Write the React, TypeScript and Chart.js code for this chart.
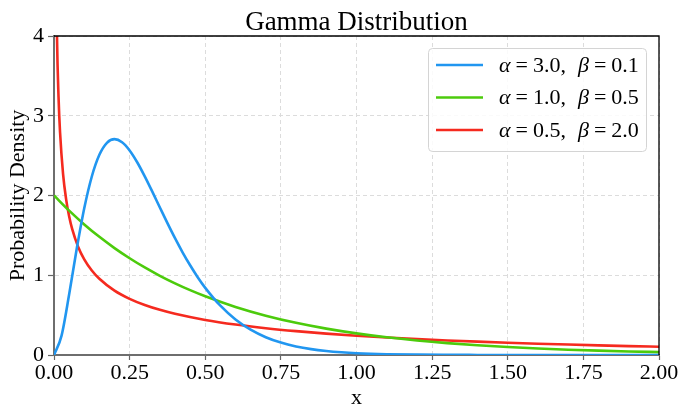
import React, { useEffect, useRef } from 'react';
import { Chart, registerables } from 'chart.js';
Chart.register(...registerables);

const FONT = "'Liberation Serif', 'Times New Roman', serif";
const titleText = 'Gamma Distribution';
const xTitle = 'x';
const yTitle = 'Probability Density';

const xBlue = [0, 0.025, 0.05, 0.075, 0.1, 0.125, 0.15, 0.175, 0.2, 0.225, 0.25, 0.275, 0.3, 0.325, 0.35, 0.375, 0.4, 0.425, 0.45, 0.475, 0.5,
  0.55, 0.6, 0.65, 0.7, 0.75, 0.8, 0.85, 0.9, 0.95, 1.0,
  1.1, 1.2, 1.3, 1.4, 1.5, 1.6, 1.7, 1.8, 1.9, 2.0];
const yBlue = [0, 0.2434, 0.7582, 1.3286, 1.8394, 2.2383, 2.5102, 2.6609, 2.7067, 2.6679, 2.5652, 2.4173, 2.2404, 2.0478, 1.8496, 1.6536, 1.4653, 1.2882, 1.1248, 0.976, 0.8422,
  0.6181, 0.4462, 0.3176, 0.2234, 0.1556, 0.1073, 0.0735, 0.05, 0.0338, 0.0227,
  0.0101, 0.0044, 0.0019, 0.0008, 0.0003, 0.0001, 0.00005, 0.00002, 0.00001, 0];

const xGreen = [0, 0.05, 0.1, 0.15, 0.2, 0.25, 0.3, 0.35, 0.4, 0.45, 0.5,
  0.6, 0.7, 0.8, 0.9, 1.0, 1.1, 1.2, 1.3, 1.4, 1.5, 1.6, 1.7, 1.8, 1.9, 2.0];
const yGreen = [2, 1.8097, 1.6375, 1.4816, 1.3406, 1.2131, 1.0976, 0.9932, 0.8987, 0.8131, 0.7358,
  0.6024, 0.4932, 0.4038, 0.3306, 0.2707, 0.2216, 0.1814, 0.1485, 0.1216, 0.0996, 0.0815, 0.0667, 0.0546, 0.0447, 0.0366];

const xRed = [0.0025, 0.005, 0.01, 0.015, 0.02, 0.03, 0.04, 0.05, 0.06, 0.08, 0.1, 0.125, 0.15, 0.2, 0.25, 0.3, 0.35, 0.4, 0.5,
  0.6, 0.7, 0.8, 0.9, 1.0, 1.1, 1.2, 1.3, 1.4, 1.5, 1.6, 1.7, 1.8, 1.9, 2.0];
const yRed = [7.969, 5.6278, 3.9695, 3.2331, 2.7928, 2.269, 1.9552, 1.7401, 1.5805, 1.3552, 1.2, 1.06, 0.9556, 0.8072, 0.7041, 0.6269, 0.5661, 0.5164, 0.4394,
  0.3815, 0.336, 0.299, 0.2681, 0.242, 0.2195, 0.1999, 0.1827, 0.1674, 0.1539, 0.1417, 0.1308, 0.1209, 0.1119, 0.1038];

const seriesAlpha = ['3.0', '1.0', '0.5'];
const seriesBeta = ['0.1', '0.5', '2.0'];
const seriesColors = ['#2196f0', '#4ccb0c', '#f52a1f'];

const xTicksMin = 0;
const xTicksMax = 2;
const xTickStep = 0.25;
const yTicksMin = 0;
const yTicksMax = 4;
const yTickStep = 1;

const pts = (xs: number[], ys: number[]) => xs.map((x, i) => ({ x, y: ys[i] }));

const decorPlugin = {
  id: 'decor',
  afterDraw(chart: any) {
    const { ctx, chartArea: a } = chart;
    ctx.save();
    // top & right spines
    ctx.strokeStyle = '#000';
    ctx.lineWidth = 1.3;
    ctx.beginPath();
    ctx.moveTo(a.left, a.top);
    ctx.lineTo(a.right, a.top);
    ctx.lineTo(a.right, a.bottom);
    ctx.stroke();

    // title
    ctx.fillStyle = '#000';
    ctx.font = `27px ${FONT}`;
    ctx.textAlign = 'center';
    ctx.textBaseline = 'alphabetic';
    ctx.fillText(titleText, (a.left + a.right) / 2, 30);

    // legend
    const bx = 428.5, by = 48.5, bw = 218, bh = 103;
    ctx.beginPath();
    ctx.roundRect(bx, by, bw, bh, 4);
    ctx.fillStyle = 'rgba(255,255,255,0.85)';
    ctx.fill();
    ctx.strokeStyle = '#d4d4d4';
    ctx.lineWidth = 1;
    ctx.stroke();

    const rowY = [65, 97.5, 130];
    for (let i = 0; i < 3; i++) {
      const y = rowY[i];
      ctx.strokeStyle = seriesColors[i];
      ctx.lineWidth = 2.5;
      ctx.beginPath();
      ctx.moveTo(436, y);
      ctx.lineTo(483, y);
      ctx.stroke();

      ctx.fillStyle = '#000';
      ctx.textAlign = 'left';
      ctx.textBaseline = 'middle';
      const ty = y + 1;
      let x = 499;
      const seg = (t: string, italic: boolean, gap: number) => {
        ctx.font = `${italic ? 'italic ' : ''}22px ${FONT}`;
        ctx.fillText(t, x, ty);
        x += ctx.measureText(t).width + gap;
      };
      seg('α', true, 5);
      seg('=', false, 5);
      seg(seriesAlpha[i] + ',', false, 12);
      seg('β', true, 5);
      seg('=', false, 5);
      seg(seriesBeta[i], false, 0);
    }
    ctx.restore();
  },
};

export default function App() {
  const ref = useRef<HTMLCanvasElement | null>(null);
  useEffect(() => {
    if (!ref.current) return;
    const chart = new Chart(ref.current, {
      type: 'line',
      data: {
        datasets: [
          { data: pts(xBlue, yBlue), borderColor: seriesColors[0] },
          { data: pts(xGreen, yGreen), borderColor: seriesColors[1] },
          { data: pts(xRed, yRed), borderColor: seriesColors[2] },
        ].map((d) => ({
          ...d,
          borderWidth: 2.6,
          pointRadius: 0,
          fill: false,
          cubicInterpolationMode: 'monotone' as const,
        })),
      },
      options: {
        responsive: false,
        animation: false,
        events: [],
        layout: { padding: { top: 36, right: 22, left: 0, bottom: 0 } },
        plugins: { legend: { display: false }, tooltip: { enabled: false }, title: { display: false } },
        scales: {
          x: {
            type: 'linear',
            min: xTicksMin,
            max: xTicksMax,
            afterFit: (s: any) => { s.height = 50; },
            ticks: {
              stepSize: xTickStep,
              color: '#000',
              font: { family: FONT, size: 22 },
              padding: 0,
              maxRotation: 0,
              callback: (v: any) => Number(v).toFixed(2),
            },
            grid: { color: '#dcdcdc', lineWidth: 1, tickColor: '#666', tickLength: 5, tickWidth: 1.2, tickBorderDash: [] },
            border: { color: '#6e6e6e', width: 2, dash: [4, 3] },
            title: { display: true, text: xTitle, color: '#000', font: { family: FONT, size: 22 }, padding: { top: 0, bottom: -6 } },
          },
          y: {
            type: 'linear',
            min: yTicksMin,
            max: yTicksMax,
            afterFit: (s: any) => { s.width = 54; },
            ticks: {
              stepSize: yTickStep,
              color: '#000',
              font: { family: FONT, size: 22 },
              padding: 4,
            },
            grid: { color: '#dcdcdc', lineWidth: 1, tickColor: '#666', tickLength: 6, tickWidth: 1.2, tickBorderDash: [] },
            border: { color: '#6e6e6e', width: 2, dash: [4, 3] },
            title: { display: true, text: yTitle, color: '#000', font: { family: FONT, size: 22 }, padding: { top: 5, bottom: 0 } },
          },
        },
      } as any,
      plugins: [decorPlugin],
    });
    return () => chart.destroy();
  }, []);
  return (
    <div style={{ position: 'absolute', left: 0, top: 0, width: 681, height: 405 }}>
      <canvas ref={ref} width={681} height={405} style={{ width: 681, height: 405 }} />
    </div>
  );
}
